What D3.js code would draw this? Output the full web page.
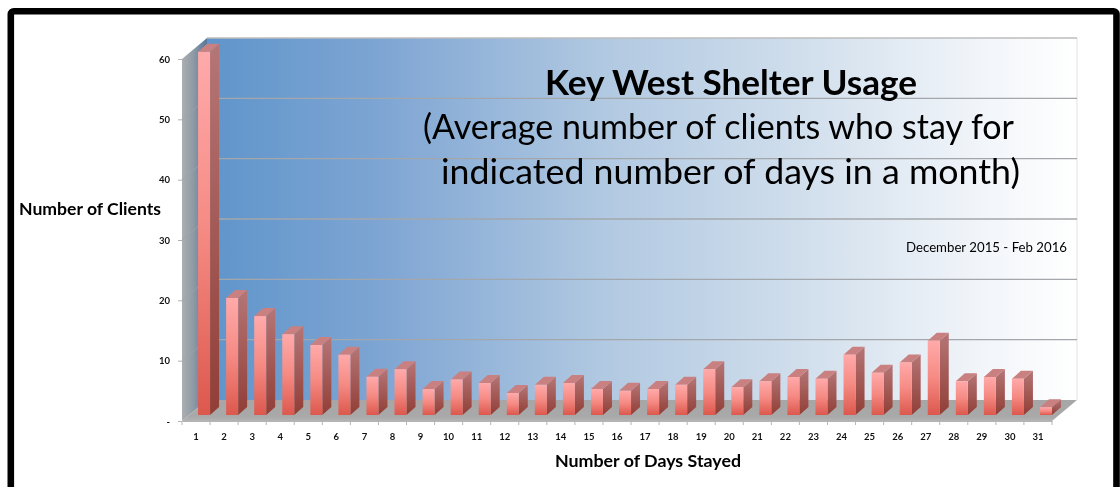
<!DOCTYPE html>
<html>
<head>
<meta charset="utf-8">
<script src="https://cdn.jsdelivr.net/npm/d3@7"></script>
<style>
  html, body { margin: 0; padding: 0; background: #fff; overflow: hidden; }
  svg { display: block; font-family: Lato, "Open Sans", sans-serif; filter: blur(0.45px); }
</style>
</head>
<body>
<svg id="chart" width="1120" height="487"></svg>
<script>
const days = d3.range(1, 32)
const clients = [60.2, 19.4, 16.4, 13.4, 11.6, 10, 6.35, 7.6, 4.3, 5.9, 5.3, 3.65, 5, 5.3, 4.3, 4,
  4.3, 5, 7.6, 4.6, 5.6, 6.3, 6, 10, 7, 8.7, 12.3, 5.6, 6.3, 6, 1.3]
const yTicks = [0, 10, 20, 30, 40, 50, 60]
const titleLines = ["(Average number of clients who stay for", "indicated number of days in a month)"]

const svg = d3.select("#chart")
const defs = svg.append("defs")

// Plot geometry, the 3D box is a front plane pushed back by (depthX, depthY)
const plotLeft = 182, plotRight = 1052, plotBottom = 421, plotTop = 59
const depthX = 25, depthY = -21
const barW = 12, barDepthX = 9, barDepthY = -8, barLift = 6

const x = d3.scaleBand().domain(days).range([plotLeft, plotRight])
const y = d3.scaleLinear().domain([0, 60]).range([plotBottom, plotTop])

function gradient(id, stops, horizontal) {
  const g = defs.append("linearGradient").attr("id", id)
    .attr("x1", 0).attr("y1", 0)
    .attr("x2", horizontal ? 1 : 0).attr("y2", horizontal ? 0 : 1)
  stops.forEach(s => g.append("stop").attr("offset", s[0]).attr("stop-color", s[1]))
}

gradient("wall", [[0, "#5f95cb"], [0.2, "#7ea5d3"], [0.45, "#b0c8e1"], [0.68, "#d0deec"], [0.9, "#f3f6fa"], [1, "#ffffff"]], true)
gradient("sideWall", [[0, "#abaeb1"], [0.45, "#8f9aa5"], [1, "#52789d"]], true)
gradient("floor", [[0, "#a6a6a6"], [0.8, "#a9a9a9"], [1, "#b4b4b4"]], false)
gradient("barFront", [[0, "#ffaaaa"], [0.5, "#f58a83"], [1, "#dc584d"]], false)
gradient("barSide", [[0, "#b57676"], [1, "#913e36"]], false)

const pts = arr => arr.map(p => p.join(",")).join(" ")

// Walls and floor
const box = svg.append("g").attr("class", "box")
box.append("rect")
  .attr("x", plotLeft + depthX).attr("y", plotTop + depthY)
  .attr("width", plotRight - plotLeft).attr("height", plotBottom - plotTop)
  .attr("fill", "url(#wall)")
box.append("polygon")
  .attr("points", pts([[plotLeft, plotBottom], [plotLeft, plotTop], [plotLeft + depthX, plotTop + depthY], [plotLeft + depthX, plotBottom + depthY]]))
  .attr("fill", "url(#sideWall)")
box.append("polygon")
  .attr("points", pts([[plotLeft, plotBottom], [plotLeft + depthX, plotBottom + depthY], [plotRight + depthX, plotBottom + depthY], [plotRight, plotBottom]]))
  .attr("fill", "url(#floor)")
box.append("line")
  .attr("x1", plotRight + depthX).attr("x2", plotRight + depthX)
  .attr("y1", plotTop + depthY).attr("y2", plotBottom + depthY)
  .attr("stroke", "#e2e2e2")

// Gridlines on the back wall, with their faint runs across the side wall
box.selectAll(".grid").data(yTicks.slice(1)).enter().append("line")
  .attr("class", "grid")
  .attr("x1", plotLeft + depthX).attr("x2", plotRight + depthX)
  .attr("y1", d => y(d) + depthY).attr("y2", d => y(d) + depthY)
  .attr("stroke", d => d === 60 ? "#bdbdbd" : "#a3a7ab").attr("stroke-width", 1.4)
box.selectAll(".grid-side").data(yTicks.slice(1, -1)).enter().append("line")
  .attr("class", "grid-side")
  .attr("x1", plotLeft).attr("x2", plotLeft + depthX)
  .attr("y1", d => y(d)).attr("y2", d => y(d) + depthY)
  .attr("stroke", "#9aa3ab").attr("stroke-width", 0.8)

// Bars
const bars = svg.append("g").attr("class", "bars")
  .selectAll("g").data(days).enter().append("g")
const barX = d => x(d) + x.bandwidth() - barW
const barY = d => y(clients[d - 1]) - barLift
const barBase = y(0) - barLift

bars.append("polygon")
  .attr("points", d => pts([
    [barX(d) + barW, barY(d)], [barX(d) + barW + barDepthX, barY(d) + barDepthY],
    [barX(d) + barW + barDepthX, barBase + barDepthY], [barX(d) + barW, barBase]]))
  .attr("fill", "url(#barSide)")
bars.append("polygon")
  .attr("points", d => pts([
    [barX(d), barY(d)], [barX(d) + barDepthX, barY(d) + barDepthY],
    [barX(d) + barW + barDepthX, barY(d) + barDepthY], [barX(d) + barW, barY(d)]]))
  .attr("fill", "#c98080")
bars.append("rect")
  .attr("x", barX).attr("y", barY)
  .attr("width", barW).attr("height", d => barBase - barY(d))
  .attr("fill", "url(#barFront)")

// Axes
const yAxis = svg.append("g")
  .attr("transform", `translate(${plotLeft},0)`)
  .call(d3.axisLeft(y).tickValues(yTicks).tickSize(4).tickPadding(8)
    .tickFormat(d => d === 0 ? "-" : d))
const xAxis = svg.append("g")
  .attr("transform", `translate(0,${plotBottom})`)
  .call(d3.axisBottom(x).tickSize(0).tickPadding(12))
yAxis.select(".domain").remove()
xAxis.select(".domain").attr("stroke", "#b5b5b5")
yAxis.selectAll("line").attr("stroke", "#b0b0b0")
svg.selectAll(".tick text")
  .attr("fill", "#111").style("font-size", "9.5px").style("font-family", "Lato").style("font-weight", 700)

// Ticks sit between the categories here, not on them
svg.append("g").selectAll("line").data(days.concat([32])).enter().append("line")
  .attr("x1", d => plotLeft + (d - 1) * x.step()).attr("x2", d => plotLeft + (d - 1) * x.step())
  .attr("y1", plotBottom).attr("y2", plotBottom + 4)
  .attr("stroke", "#b5b5b5")

// Text, fitted to the widths in the picture since Calibri is not installed
const label = (tx, ty, text, size, weight, width, anchor) => svg.append("text")
  .attr("x", tx).attr("y", ty).text(text)
  .attr("fill", "#000").attr("text-anchor", anchor || "middle")
  .attr("textLength", width).attr("lengthAdjust", "spacingAndGlyphs")
  .style("font-size", size + "px").style("font-weight", weight)

label(731, 95, "Key West Shelter Usage", 35, 700, 372)
label(718.5, 139, titleLines[0], 35, 400, 591)
label(730.5, 184, titleLines[1], 35, 400, 579)
label(1067, 252, "December 2015 - Feb 2016", 13.2, 400, 161, "end")
label(90, 215, "Number of Clients", 17.5, 700, 142)
label(648, 467, "Number of Days Stayed", 17.5, 700, 186)

// Slide frame, runs off the bottom and right of the crop
svg.append("rect")
  .attr("x", 10.8).attr("y", 11.3)
  .attr("width", 1105.7).attr("height", 600)
  .attr("rx", 3)
  .attr("fill", "none").attr("stroke", "#000").attr("stroke-width", 6.6)
</script>
</body>
</html>
